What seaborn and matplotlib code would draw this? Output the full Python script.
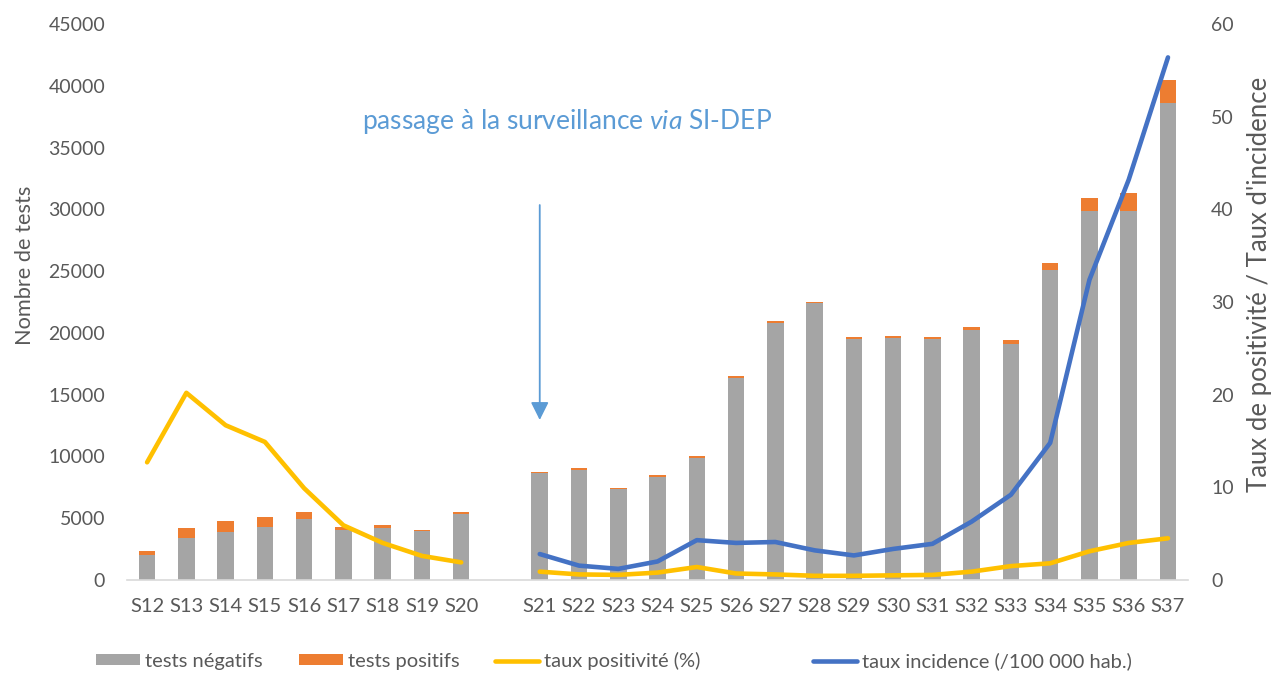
import numpy as np
import pandas as pd
import matplotlib
matplotlib.use("Agg")
import matplotlib.pyplot as plt
import seaborn as sns
from matplotlib.patches import Patch
from matplotlib.lines import Line2D

# weeks (an empty slot sits between S20 and S21)
weeks_a = ["S12", "S13", "S14", "S15", "S16", "S17", "S18", "S19", "S20"]
weeks_b = ["S21", "S22", "S23", "S24", "S25", "S26", "S27", "S28", "S29",
           "S30", "S31", "S32", "S33", "S34", "S35", "S36", "S37"]

tests_negatifs = [2050, 3430, 3910, 4320, 4940, 4020, 4240, 3940, 5370,
                  8630, 8930, 7340, 8360, 9850, 16380, 20830, 22390, 19510,
                  19620, 19480, 20240, 19100, 25120, 29870, 29870, 38630]
tests_positifs = [300, 810, 840, 750, 540, 300, 190, 110, 110,
                  110, 110, 110, 110, 210, 110, 130, 140, 130,
                  110, 160, 210, 300, 510, 1070, 1480, 1860]
taux_positivite = [12.7, 20.2, 16.7, 14.9, 9.9, 5.9, 4.0, 2.6, 1.9,
                   0.9, 0.6, 0.55, 0.8, 1.4, 0.7, 0.6, 0.45, 0.45,
                   0.5, 0.55, 0.9, 1.5, 1.8, 3.1, 4.0, 4.5]
taux_incidence = [2.8, 1.55, 1.2, 2.0, 4.3, 4.0, 4.1, 3.2, 2.65,
                  3.35, 3.9, 6.3, 9.2, 14.8, 32.4, 43.2, 56.4]

legend_labels = ["tests négatifs", "tests positifs", "taux positivité (%)",
                 "taux incidence (/100 000 hab.)"]

GREY = "#A5A5A5"
ORANGE = "#ED7D31"
YELLOW = "#FFC000"
BLUE = "#4472C4"
NOTE = "#5B9BD5"
TXT = "#595959"

sns.set_theme(style="white")
plt.rcParams["font.family"] = ["Lato", "DejaVu Sans"]
plt.rcParams["mathtext.fontset"] = "custom"
plt.rcParams["mathtext.rm"] = "Lato"
plt.rcParams["mathtext.it"] = "Lato:italic"

order = weeks_a + [" "] + weeks_b
weeks = weeks_a + weeks_b
df = pd.DataFrame({"semaine": weeks,
                   "neg": tests_negatifs,
                   "pos": tests_positifs,
                   "positivite": taux_positivite})
df["total"] = df["neg"] + df["pos"]
df["x"] = [order.index(w) for w in weeks]
df["seg"] = [0 if w in weeks_a else 1 for w in weeks]

df_inc = pd.DataFrame({"x": [order.index(w) for w in weeks_b],
                       "incidence": taux_incidence})

fig = plt.figure(figsize=(12.81, 6.77), dpi=100)
ax = fig.add_axes([0.0995, 0.1433, 0.8276, 0.8212])

# stacked bars: total (orange) behind, negatives (grey) in front
sns.barplot(data=df, x="semaine", y="total", order=order, color=ORANGE,
            saturation=1, width=0.42, errorbar=None, linewidth=0, ax=ax)
sns.barplot(data=df, x="semaine", y="neg", order=order, color=GREY,
            saturation=1, width=0.42, errorbar=None, linewidth=0, ax=ax)

ax2 = ax.twinx()
sns.lineplot(data=df, x="x", y="positivite", units="seg", estimator=None,
             color=YELLOW, lw=3.3, ax=ax2, legend=False,
             solid_capstyle="round", solid_joinstyle="round")
sns.lineplot(data=df_inc, x="x", y="incidence", estimator=None,
             color=BLUE, lw=3.3, ax=ax2, legend=False,
             solid_capstyle="round", solid_joinstyle="round")

ax.set_xlim(-0.5, len(order) - 0.5)
ax.set_ylim(0, 45000)
ax.set_yticks(np.arange(0, 45001, 5000))
ax2.set_ylim(0, 60)
ax2.set_yticks(np.arange(0, 61, 10))

for a in (ax, ax2):
    a.set_xlabel("")
    a.set_ylabel("")
    for s in a.spines.values():
        s.set_visible(False)
    a.grid(False)
ax.spines["bottom"].set_visible(True)
ax.spines["bottom"].set_color("#D9D9D9")
ax.spines["bottom"].set_linewidth(1.2)

ax.tick_params(axis="x", length=0, pad=13, labelsize=14.5, labelcolor=TXT)
ax.tick_params(axis="y", length=0, pad=16, labelsize=14, labelcolor=TXT)
ax2.tick_params(axis="y", length=0, pad=17, labelsize=14, labelcolor=TXT)

fig.text(25 / 1281, 1 - 265 / 677, "Nombre de tests", rotation=90,
         ha="center", va="center", fontsize=15.7, color=TXT)
fig.text(1259 / 1281, 1 - 284 / 677, "Taux de positivité / Taux d'incidence",
         rotation=90, ha="center", va="center", fontsize=18.5, color=TXT)

# annotation + arrow
fig.text(362 / 1281, 1 - 122 / 677,
         "passage à la surveillance $\\mathit{via}$ SI-DEP",
         ha="left", va="center", fontsize=19, color=NOTE)
xa = order.index("S21")
ax.annotate("", xy=(xa, 12950), xytext=(xa, 30350),
            arrowprops=dict(arrowstyle="-|>,head_length=0.6,head_width=0.3",
                            mutation_scale=18, color=NOTE, lw=1.3,
                            shrinkA=0, shrinkB=0))

# legend entries placed one by one along the bottom
handles = [Patch(facecolor=GREY, edgecolor="none"),
           Patch(facecolor=ORANGE, edgecolor="none"),
           Line2D([0], [0], color=YELLOW, lw=3.3),
           Line2D([0], [0], color=BLUE, lw=3.3)]
x_starts = [96, 299, 495, 813]
for h, lab, x0 in zip(handles, legend_labels, x_starts):
    leg = fig.legend([h], [lab], loc="center left",
                     bbox_to_anchor=(x0 / 1281, 1 - 661 / 677),
                     frameon=False, fontsize=14.5, handlelength=2.2,
                     handleheight=0.45, handletextpad=0.25,
                     borderpad=0, borderaxespad=0)
    for t in leg.get_texts():
        t.set_color(TXT)

fig.savefig("out.png", dpi=100)
